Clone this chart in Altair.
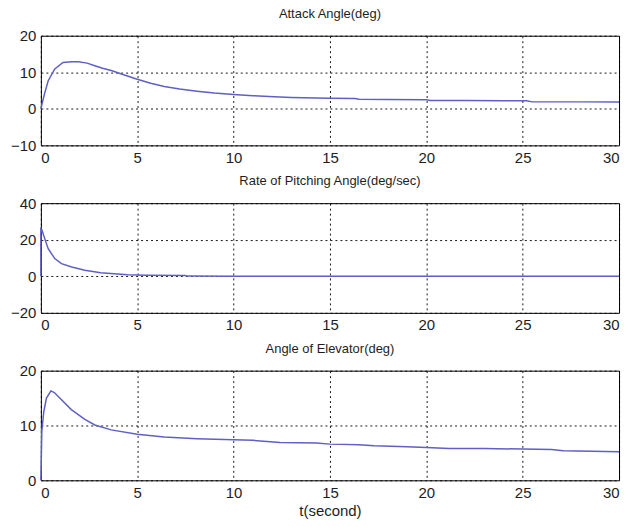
import altair as alt
import pandas as pd

# Attack angle (deg)
t1 = [0, 0.1, 0.2, 0.38, 0.72, 1.15, 1.6, 1.95, 2.4, 2.8, 3.2, 3.65, 4.3, 5.0, 5.7, 6.4, 7.2, 8.1, 9.0, 10.0, 11.0, 12.1, 13.0, 14.3, 15.0, 16.3, 16.5, 18.0, 20.0, 20.2, 22.0, 24.0, 25.2, 25.5, 28.0, 30.0]
v1 = [0, 2.2, 4.3, 7.7, 10.9, 12.7, 12.9, 12.9, 12.5, 11.8, 11.1, 10.5, 9.3, 8.1, 7.0, 6.1, 5.4, 4.8, 4.3, 3.9, 3.6, 3.3, 3.1, 2.95, 2.9, 2.85, 2.6, 2.55, 2.5, 2.3, 2.25, 2.2, 2.2, 1.9, 1.9, 1.85]

# Rate of pitching angle (deg/sec)
t2 = [0, 0.0, 0.05, 0.2, 0.38, 0.72, 1.07, 1.6, 2.28, 3.1, 4.5, 5.5, 7.5, 7.6, 10.0, 15.0, 20.0, 25.0, 30.0]
v2 = [0, 26.0, 25.5, 20.6, 15.1, 9.7, 6.9, 5.1, 3.3, 2.0, 0.9, 0.6, 0.4, 0.1, 0.05, 0.0, 0.0, 0.0, 0.0]

# Angle of elevator (deg)
t3 = [0, 0.05, 0.15, 0.29, 0.52, 0.7, 1.07, 1.58, 2.28, 2.8, 3.65, 5.0, 6.4, 8.1, 10.0, 11.0, 12.4, 14.3, 15.0, 16.5, 17.3, 19.0, 20.0, 21.2, 23.0, 25.0, 26.5, 27.1, 30.0]
v3 = [0, 9.0, 12.5, 15.0, 16.3, 16.0, 14.7, 12.9, 11.1, 10.1, 9.2, 8.4, 7.9, 7.6, 7.4, 7.3, 6.9, 6.8, 6.6, 6.5, 6.3, 6.1, 6.0, 5.8, 5.8, 5.7, 5.6, 5.4, 5.2]

titles = ["Attack Angle(deg)", "Rate of Pitching Angle(deg/sec)", "Angle of Elevator(deg)"]
y_domains = [[-10, 20], [-20, 40], [0, 20]]
y_ticks = [[-10, 0, 10, 20], [-20, 0, 20, 40], [0, 10, 20]]
x_ticks = [0, 5, 10, 15, 20, 25, 30]

LINE = "#5f5fc6"
FONT = "Liberation Sans"
TXT = "#1e1e1e"


def panel(t, v, title, ydom, yt, last):
    df = pd.DataFrame({"t": t, "v": v, "i": list(range(len(t)))})
    xaxis = alt.Axis(values=x_ticks, grid=True, gridDash=[2, 3], gridColor="#000000",
                     gridOpacity=0.9, tickSize=0, labelPadding=5, labelFontSize=15,
                     labelFont=FONT, labelColor=TXT, domain=False,
                     titleFont=FONT, titleFontSize=15, titleFontWeight="normal",
                     titleColor=TXT, titlePadding=3)
    yaxis = alt.Axis(values=yt, grid=True, gridDash=[2, 3], gridColor="#000000",
                     gridOpacity=0.9, tickSize=0, labelPadding=5, labelFontSize=15,
                     labelFont=FONT, labelColor=TXT, domain=False)
    xenc = alt.X("t:Q", scale=alt.Scale(domain=[0, 30], nice=False),
                 axis=xaxis, title="t(second)" if last else None)
    return alt.Chart(df).mark_line(color=LINE, strokeWidth=1.5).encode(
        x=xenc,
        y=alt.Y("v:Q", scale=alt.Scale(domain=ydom, nice=False), axis=yaxis, title=None),
        order="i:Q",
    ).properties(
        width=580, height=110,
        title=alt.TitleParams(title, fontSize=13, font=FONT, fontWeight="normal",
                              color=TXT, offset=8, anchor="middle"),
    )


charts = [
    panel(t1, v1, titles[0], y_domains[0], y_ticks[0], False),
    panel(t2, v2, titles[1], y_domains[1], y_ticks[1], False),
    panel(t3, v3, titles[2], y_domains[2], y_ticks[2], True),
]

chart = alt.vconcat(*charts, spacing=8).properties(
    padding={"left": 10, "top": 6, "right": 10, "bottom": 5},
    background="white",
).configure_view(stroke="#000000", strokeWidth=1)

chart.save("out.html", embed_options={"renderer": "svg", "actions": False})
